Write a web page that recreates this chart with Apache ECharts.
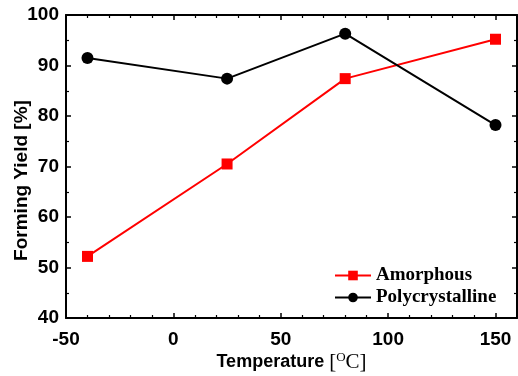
<!DOCTYPE html>
<html>
<head>
<meta charset="utf-8">
<script src="https://cdn.jsdelivr.net/npm/echarts@6/dist/echarts.min.js"></script>
<style>
  html, body { margin: 0; padding: 0; background: #fff; }
  #chart { width: 518px; height: 376px; }
</style>
</head>
<body>
<div id="chart"></div>
<script>
const temperatures = [-40, 25, 80, 150];
const amorphous = [52.2, 70.5, 87.4, 95.2];
const polycrystalline = [91.5, 87.4, 96.3, 78.2];

const sans = '"Liberation Sans", Arial, sans-serif';
const serif = '"Liberation Serif", "Times New Roman", serif';

const chart = echarts.init(document.getElementById('chart'));

const tickStyle = { show: true, inside: true, length: 5, lineStyle: { color: '#000', width: 1.5 } };
const minorStyle = { show: true, length: 3, lineStyle: { color: '#000', width: 1.2 } };
const lineStyle = { show: true, onZero: false, lineStyle: { color: '#000', width: 2 } };

chart.setOption({
    animation: false,
    grid: { left: 66, right: 1, top: 15, bottom: 58, containLabel: false, outerBoundsMode: 'none' },
    legend: {
        left: 329, top: 261, orient: 'vertical',
        itemWidth: 36, itemHeight: 12, itemGap: 3,
        textStyle: { fontFamily: serif, fontWeight: 'bold', fontSize: 19, color: '#000' },
        data: ['Amorphous', 'Polycrystalline']
    },
    xAxis: [
        {
            type: 'value', min: -50, max: 160, interval: 50,
            name: '{a|Temperature }{b|[}{c|O}{b|C]}',
            nameLocation: 'middle', nameGap: 33, nameMoveOverlap: false,
            nameTextStyle: {
                rich: {
                    a: { fontFamily: sans, fontWeight: 'bold', fontSize: 18, color: '#000' },
                    b: { fontFamily: serif, fontSize: 21, color: '#000' },
                    c: { fontFamily: serif, fontSize: 13, color: '#000', verticalAlign: 'top', padding: [0, 0, 10, 0] }
                }
            },
            axisLine: lineStyle, axisTick: tickStyle,
            minorTick: Object.assign({ splitNumber: 5 }, minorStyle),
            splitLine: { show: false },
            axisLabel: { showMaxLabel: false, margin: 12, fontFamily: sans, fontWeight: 'bold', fontSize: 19, color: '#000' }
        },
        {
            type: 'value', position: 'top', min: -50, max: 160, interval: 50,
            axisLine: lineStyle, axisTick: tickStyle,
            minorTick: Object.assign({ splitNumber: 5 }, minorStyle),
            splitLine: { show: false }, axisLabel: { show: false }
        }
    ],
    yAxis: [
        {
            type: 'value', min: 40, max: 100, interval: 10,
            name: 'Forming Yield [%]', nameLocation: 'middle', nameGap: 35, nameRotate: 90, nameMoveOverlap: false,
            nameTextStyle: { fontFamily: sans, fontWeight: 'bold', fontSize: 19, color: '#000', padding: [0, 28, 0, 0] },
            axisLine: lineStyle, axisTick: tickStyle,
            minorTick: Object.assign({ splitNumber: 2 }, minorStyle),
            splitLine: { show: false },
            axisLabel: { margin: 7, fontFamily: sans, fontWeight: 'bold', fontSize: 19, color: '#000' }
        },
        {
            type: 'value', position: 'right', min: 40, max: 100, interval: 10,
            axisLine: lineStyle, axisTick: tickStyle,
            minorTick: Object.assign({ splitNumber: 2 }, minorStyle),
            splitLine: { show: false }, axisLabel: { show: false }
        }
    ],
    series: [
        {
            name: 'Amorphous', type: 'line',
            data: temperatures.map((t, i) => [t, amorphous[i]]),
            symbol: 'rect', symbolSize: 11,
            itemStyle: { color: '#ff0000' },
            lineStyle: { color: '#ff0000', width: 2 }
        },
        {
            name: 'Polycrystalline', type: 'line',
            data: temperatures.map((t, i) => [t, polycrystalline[i]]),
            symbol: 'circle', symbolSize: 12,
            itemStyle: { color: '#000' },
            lineStyle: { color: '#000', width: 2 }
        }
    ]
});
</script>
</body>
</html>
